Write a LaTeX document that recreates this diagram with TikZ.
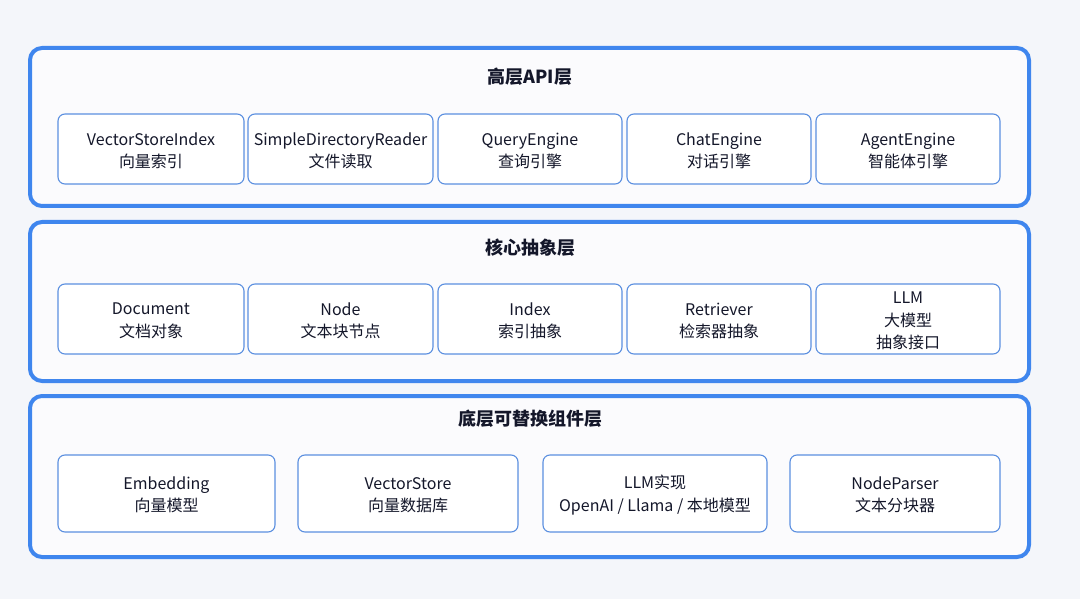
\documentclass[tikz,border=0pt]{standalone}
\usepackage{fontspec}
\setmainfont{Noto Sans CJK SC}
\definecolor{bgc}{HTML}{F4F6FA}
\definecolor{layerc}{HTML}{3F86EE}
\definecolor{boxc}{HTML}{5B8FE0}
\definecolor{txtc}{HTML}{14172A}
\begin{document}
\begin{tikzpicture}[x=1pt,y=-1pt,
  layer/.style={draw=layerc,line width=4pt,rounded corners=12pt,fill=white!60!bgc},
  cell/.style={draw=boxc,line width=1.1pt,rounded corners=7pt,fill=white},
  lbl/.style={align=center,text=txtc,font=\fontsize{16}{22.5}\selectfont},
  ttl/.style={text=txtc,font=\fontsize{18}{22}\selectfont\bfseries}]
\fill[bgc] (0,0) rectangle (1080,599);
\useasboundingbox (0,0) rectangle (1080,599);
% layers
\draw[layer] (30,48) rectangle (1029,206);
\draw[layer] (30,222) rectangle (1029,381);
\draw[layer] (30,396) rectangle (1029,557);
\node[ttl] (t1) at (530,77) {高层API层};
\node[ttl] (t2) at (530,248) {核心抽象层};
\node[ttl] (t3) at (530,419) {底层可替换组件层};
% row 1
\draw[cell] (58,114) rectangle (244,184);
\draw[cell] (248,114) rectangle (433,184);
\draw[cell] (438,114) rectangle (622,184);
\draw[cell] (627,114) rectangle (811,184);
\draw[cell] (816,114) rectangle (1000,184);
\node[lbl] (a1) at (151,151) {VectorStoreIndex\\向量索引};
\node[lbl] (a2) at (340.5,151) {SimpleDirectoryReader\\文件读取};
\node[lbl] (a3) at (530,151) {QueryEngine\\查询引擎};
\node[lbl] (a4) at (719,151) {ChatEngine\\对话引擎};
\node[lbl] (a5) at (908,151) {AgentEngine\\智能体引擎};
% row 2
\draw[cell] (58,284) rectangle (244,354);
\draw[cell] (248,284) rectangle (433,354);
\draw[cell] (438,284) rectangle (622,354);
\draw[cell] (627,284) rectangle (811,354);
\draw[cell] (816,284) rectangle (1000,354);
\node[lbl] (b1) at (151,321) {Document\\文档对象};
\node[lbl] (b2) at (340.5,321) {Node\\文本块节点};
\node[lbl] (b3) at (530,321) {Index\\索引抽象};
\node[lbl] (b4) at (719,321) {Retriever\\检索器抽象};
\node[lbl] (b5) at (908,321) {LLM\\大模型\\抽象接口};
% row 3
\draw[cell] (58,455) rectangle (275,532);
\draw[cell] (298,455) rectangle (518,532);
\draw[cell] (543,455) rectangle (767,532);
\draw[cell] (790,455) rectangle (1000,532);
\node[lbl] (c1) at (166.5,495) {Embedding\\向量模型};
\node[lbl] (c2) at (408,495) {VectorStore\\向量数据库};
\node[lbl] (c3) at (655,495) {LLM实现\\OpenAI / Llama / 本地模型};
\node[lbl] (c4) at (895,495) {NodeParser\\文本分块器};
\end{tikzpicture}
\end{document}
